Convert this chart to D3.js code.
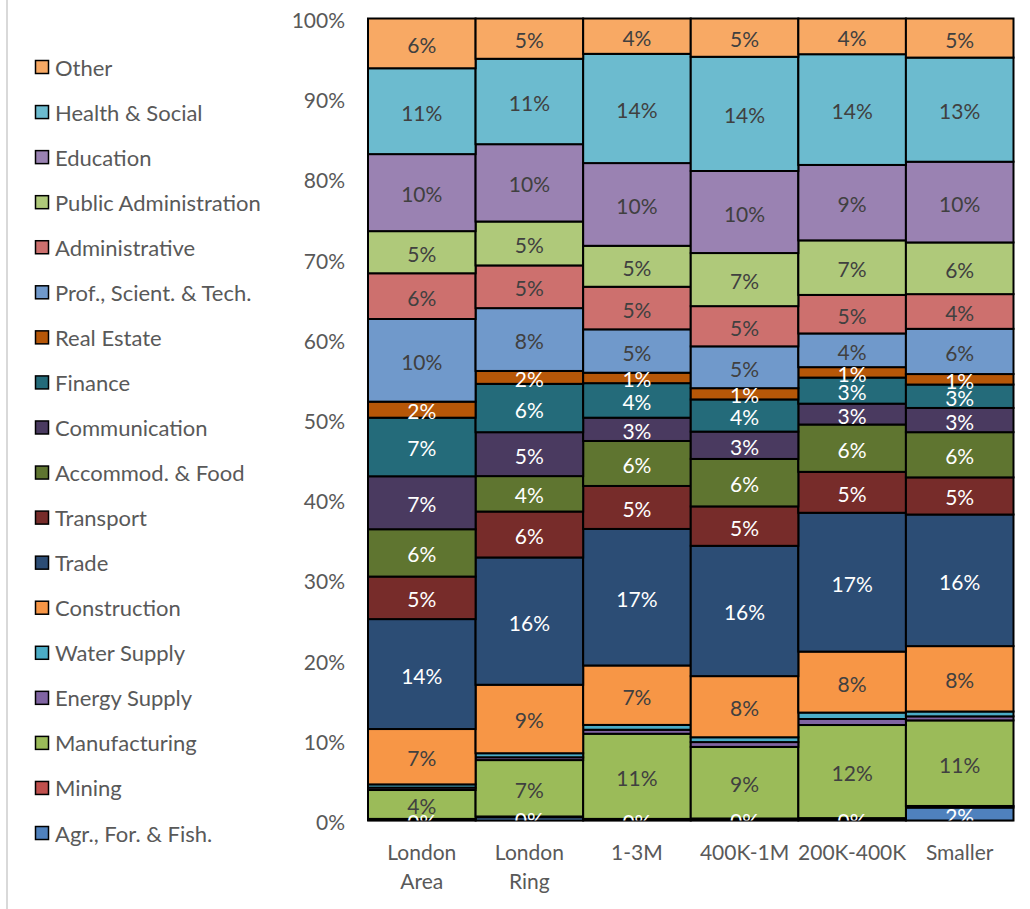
<!DOCTYPE html>
<meta charset="utf-8">
<html lang="en">
  <head>
    <meta charset="utf-8">
    <title>Sectors by city size</title>
<script src="https://d3js.org/d3.v7.min.js"></script>
<style type="text/css">
body {
  margin: 0;
  background: #fff;
}
text {
  font-family: Lato, "Open Sans", sans-serif;
}
.seg {
  stroke: #000;
  stroke-width: 2px;
}
.tick-label, .cat-label {
  fill: #595959;
  font-size: 21px;
}
.legend-label {
  fill: #595959;
  font-size: 22px;
}
.seg-label {
  font-size: 21px;
}
</style>
</head>
<body>
<div id="chart"></div>

<script type="text/javascript">
"use strict";

var width = 1030;
var height = 909;

var categories = ["London Area", "London Ring", "1-3M", "400K-1M", "200K-400K", "Smaller"];
var categoryLines = [["London", "Area"], ["London", "Ring"], ["1-3M"], ["400K-1M"], ["200K-400K"], ["Smaller"]];

// bottom of the stack first
var sectors = ["Agr., For. & Fish.", "Mining", "Manufacturing", "Energy Supply", "Water Supply",
  "Construction", "Trade", "Transport", "Accommod. & Food", "Communication", "Finance",
  "Real Estate", "Prof., Scient. & Tech.", "Administrative", "Public Administration",
  "Education", "Health & Social", "Other"];

var sectorColors = ["#4F81BD", "#C0504D", "#9BBB59", "#8064A2", "#4BACC6",
  "#F79646", "#2C4D75", "#772C2A", "#5F7530", "#4A3A60", "#246B7A",
  "#B65708", "#7099CB", "#CD706E", "#AFC97A",
  "#9A82B2", "#6CBBCF", "#F8A964"];

// white labels on dark fills, none on the thin slices
var labelColors = ["#fff", null, "#404040", null, null,
  "#404040", "#fff", "#fff", "#fff", "#fff", "#fff",
  "#fff", "#404040", "#404040", "#404040",
  "#404040", "#404040", "#404040"];

var yTicks = [0, 0.1, 0.2, 0.3, 0.4, 0.5, 0.6, 0.7, 0.8, 0.9, 1];

// shares in %, same order as sectors
var londonArea = [0.1, 0.1, 3.6, 0.3, 0.4, 6.9, 13.7, 5.3, 5.9, 6.6, 7.3, 2.0, 10.3, 5.7, 5.25, 9.6, 10.7, 6.2];
var londonRing = [0.4, 0.1, 7.0, 0.35, 0.5, 8.5, 15.8, 5.7, 4.4, 5.45, 6.0, 1.6, 7.8, 5.3, 5.45, 9.6, 10.6, 5.0];
var city1to3M = [0.1, 0.1, 10.6, 0.5, 0.6, 7.4, 17.0, 5.35, 5.6, 2.9, 4.3, 1.3, 5.4, 5.3, 5.1, 10.3, 13.6, 4.4];
var city400Kto1M = [0.15, 0.1, 8.9, 0.6, 0.6, 7.6, 16.2, 4.9, 5.9, 3.4, 4.0, 1.4, 5.2, 5.0, 6.6, 10.2, 14.2, 4.76];
var city200Kto400K = [0.2, 0.1, 11.6, 0.75, 0.8, 7.6, 17.3, 5.1, 5.9, 2.6, 3.25, 1.3, 4.2, 4.8, 6.8, 9.4, 13.8, 4.45];
var smaller = [1.6, 0.2, 10.6, 0.5, 0.6, 8.1, 16.3, 4.6, 5.6, 3.0, 2.9, 1.3, 5.6, 4.3, 6.4, 10.0, 12.9, 4.84];

var seriesByCategory = [londonArea, londonRing, city1to3M, city400Kto1M, city200Kto400K, smaller];

var table = categories.map(function(c, i) {
  var row = {category: c};
  sectors.forEach(function(s, j) { row[s] = seriesByCategory[i][j]; });
  return row;
});

var plotLeft = 368, plotRight = 1013.5, plotTop = 18.5, plotBottom = 820.5;

var x = d3.scaleBand()
    .domain(categories)
    .range([plotLeft, plotRight])
    .padding(0);

var y = d3.scaleLinear()
    .domain([0, 1])
    .range([plotBottom, plotTop]);

var color = d3.scaleOrdinal().domain(sectors).range(sectorColors);

var stack = d3.stack()
    .keys(sectors)
    .offset(d3.stackOffsetExpand);
var layers = stack(table);

var svg = d3.select("#chart").append("svg")
    .attr("width", width)
    .attr("height", height);

svg.append("line")
    .attr("x1", 7).attr("x2", 7)
    .attr("y1", 0).attr("y2", height)
    .attr("stroke", "#d9d9d9")
    .attr("stroke-width", 2);

svg.append("defs").append("clipPath")
    .attr("id", "plotclip")
  .append("rect")
    .attr("x", plotLeft - 2)
    .attr("y", plotTop - 2)
    .attr("width", plotRight - plotLeft + 4)
    .attr("height", plotBottom - plotTop + 2);

// x axis line
svg.append("line")
    .attr("x1", plotLeft).attr("x2", plotRight)
    .attr("y1", plotBottom + 0.5).attr("y2", plotBottom + 0.5)
    .attr("stroke", "#bfbfbf")
    .attr("stroke-width", 1.5);

var g = svg.append("g");

g.selectAll(".layer")
    .data(layers)
  .enter().append("g")
    .attr("class", "layer")
    .attr("fill", function(d) { return color(d.key); })
  .selectAll("rect")
    .data(function(d) { return d; })
  .enter().append("rect")
    .attr("class", "seg")
    .attr("x", function(d) { return x(d.data.category); })
    .attr("width", x.bandwidth())
    .attr("y", function(d) { return y(d[1]); })
    .attr("height", function(d) { return y(d[0]) - y(d[1]); });

var labels = svg.append("g").attr("clip-path", "url(#plotclip)");

layers.forEach(function(layer, li) {
  if (!labelColors[li]) return;
  labels.selectAll(null)
      .data(layer)
    .enter().append("text")
      .attr("class", "seg-label")
      .attr("fill", labelColors[li])
      .attr("text-anchor", "middle")
      .attr("dominant-baseline", "central")
      .attr("x", function(d) { return x(d.data.category) + x.bandwidth() / 2; })
      .attr("y", function(d) { return (y(d[0]) + y(d[1])) / 2 + 1; })
      .text(function(d) { return Math.round(d.data[layer.key]) + "%"; });
});

// y tick labels
svg.selectAll(".tick-label")
    .data(yTicks)
  .enter().append("text")
    .attr("class", "tick-label")
    .attr("text-anchor", "end")
    .attr("dominant-baseline", "central")
    .attr("x", 345)
    .attr("y", function(d) { return y(d) + 1; })
    .text(d3.format(".0%"));

// category labels
var cat = svg.selectAll(".cat-label")
    .data(categories)
  .enter().append("text")
    .attr("class", "cat-label")
    .attr("text-anchor", "middle")
    .attr("x", function(d) { return x(d) + x.bandwidth() / 2; })
    .attr("y", 860);

cat.selectAll("tspan")
    .data(function(d, i) { return categoryLines[i]; })
  .enter().append("tspan")
    .attr("x", function() { var p = d3.select(this.parentNode).datum(); return x(p) + x.bandwidth() / 2; })
    .attr("dy", function(d, i) { return i === 0 ? 0 : 29; })
    .text(function(d) { return d; });

// legend, top of stack first
var legendSectors = sectors.slice().reverse();
var legend = svg.selectAll(".legend")
    .data(legendSectors)
  .enter().append("g")
    .attr("class", "legend")
    .attr("transform", function(d, i) { return "translate(35," + (67 + i * 45.06) + ")"; });

legend.append("rect")
    .attr("x", 0.5)
    .attr("y", -6.5)
    .attr("width", 13)
    .attr("height", 13)
    .attr("fill", function(d) { return color(d); })
    .attr("stroke", "#000")
    .attr("stroke-width", 1.5);

legend.append("text")
    .attr("class", "legend-label")
    .attr("x", 20)
    .attr("y", 0)
    .attr("dominant-baseline", "central")
    .text(function(d) { return d; });

</script>
</body>
</html>
